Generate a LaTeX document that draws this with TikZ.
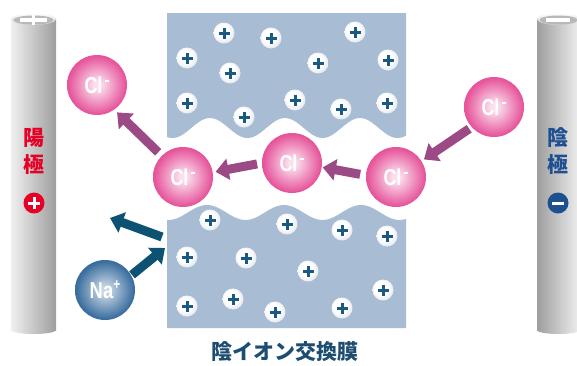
\documentclass[tikz,border=0pt]{standalone}
\usepackage{fontspec}
\setmainfont{Liberation Sans}
\newfontfamily\jpfont{Noto Sans CJK JP}
\usetikzlibrary{arrows.meta}

\definecolor{membrane}{HTML}{A8BCD4}
\definecolor{ballrim}{HTML}{C6CFDC}
\definecolor{ballrimdk}{HTML}{A7B2C4}
\definecolor{plusc}{HTML}{1B5A80}
\definecolor{clin}{HTML}{FBE0EE}
\definecolor{clout}{HTML}{E6559B}
\definecolor{nain}{HTML}{C8D6E6}
\definecolor{naout}{HTML}{3A6E9E}
\definecolor{clarrowc}{HTML}{9C4A86}
\definecolor{naarrowc}{HTML}{0E5273}
\definecolor{anodered}{HTML}{E60026}
\definecolor{cathodeblue}{HTML}{1D4F91}
\definecolor{labelblue}{HTML}{1D4E72}
\definecolor{rodlight}{HTML}{F0F0F0}
\definecolor{roddark}{HTML}{9E9E9E}
\definecolor{rodtop}{HTML}{CFCFCF}

% shaded spheres
\pgfdeclareradialshading{pballshade}{\pgfpoint{-6bp}{6bp}}{color(0bp)=(white); color(16bp)=(white); color(42bp)=(ballrim); color(60bp)=(ballrimdk)}
\pgfdeclareradialshading{clshade}{\pgfpoint{0bp}{0bp}}{color(0bp)=(clin); color(3bp)=(clin); color(24bp)=(clout); color(50bp)=(clout)}
\pgfdeclareradialshading{nashade}{\pgfpoint{0bp}{0bp}}{color(0bp)=(nain); color(3bp)=(nain); color(24bp)=(naout); color(50bp)=(naout)}

\tikzset{
  plusbar/.style={draw=plusc, line width=3pt},
  pball/.style={circle, minimum size=21pt, inner sep=0pt, outer sep=0pt,
    shade, shading=pballshade,
    path picture={
      \draw[plusbar] ([xshift=-5.5pt]path picture bounding box.center) -- ([xshift=5.5pt]path picture bounding box.center);
      \draw[plusbar] ([yshift=-5.5pt]path picture bounding box.center) -- ([yshift=5.5pt]path picture bounding box.center);
    }},
  clball/.style={circle, minimum size=60pt, inner sep=0pt, outer sep=0pt,
    shade, shading=clshade, text=white,
    font=\fontsize{23}{23}\selectfont\bfseries},
  naball/.style={circle, minimum size=60pt, inner sep=0pt, outer sep=0pt,
    shade, shading=nashade, text=white,
    font=\fontsize{23}{23}\selectfont\bfseries},
  clarrow/.style={draw=clarrowc, line width=9pt, -{Triangle[length=13pt,width=21pt]}},
  naarrow/.style={draw=naarrowc, line width=9pt, -{Triangle[length=13pt,width=21pt]}},
  jplabel/.style={inner sep=0pt, font=\jpfont\bfseries\fontsize{21}{21}\selectfont},
  signbar/.style={draw=white, line width=3pt},
}

% ion symbols with a small raised charge
\newcommand{\ionCl}{\scalebox{0.78}[1]{Cl}\hspace{2.5pt}\raisebox{11pt}{\rule{4.5pt}{1.8pt}}}
\newcommand{\ionNa}{\scalebox{0.8}[1]{Na\raisebox{0.4em}{\fontsize{15}{15}\selectfont +}}}

\begin{document}
\begin{tikzpicture}[x=1pt,y=-1pt]
\useasboundingbox (0,0) rectangle (577,365);

% anode rod
\shade[left color=rodlight, right color=roddark] (11,19) rectangle (56,330);
\shade[left color=rodlight, right color=roddark] (33.5,330) ellipse [x radius=22.5, y radius=4];
\shade[top color=white, bottom color=rodtop] (33.5,19) ellipse [x radius=22.5, y radius=6];
\fill[rodtop!85!black!90] (33.5,20) ellipse [x radius=20, y radius=4.5];
\draw[white, line width=3.5pt] (20,20) -- (47,20);
\draw[white, line width=3.5pt] (33.5,15) -- (33.5,25);

% cathode rod
\begin{scope}
\clip (0,0) rectangle (577,365);
\shade[left color=roddark, right color=rodlight] (537,19) rectangle (580,330);
\shade[left color=roddark, right color=rodlight] (558.5,330) ellipse [x radius=21.5, y radius=4];
\shade[top color=white, bottom color=rodtop] (558.5,19) ellipse [x radius=21.5, y radius=6];
\fill[rodtop!85!black!90] (558.5,20) ellipse [x radius=19, y radius=4.5];
\fill[white] (546,18) rectangle (570,22);
\end{scope}

% electrode labels
\node[jplabel, text=anodered] (anode1) at (33.5,138) {陽};
\node[jplabel, text=anodered] (anode2) at (33.5,165) {極};
\node[circle, fill=anodered, minimum size=21pt, inner sep=0pt] (anodesign) at (34,203) {};
\draw[signbar] ([xshift=-6pt]anodesign.center) -- ([xshift=6pt]anodesign.center);
\draw[signbar] ([yshift=-6pt]anodesign.center) -- ([yshift=6pt]anodesign.center);

\node[jplabel, text=cathodeblue] (cathode1) at (558,138) {陰};
\node[jplabel, text=cathodeblue] (cathode2) at (558,165) {極};
\node[circle, fill=cathodeblue, minimum size=21pt, inner sep=0pt] (cathodesign) at (558,203) {};
\draw[signbar] ([xshift=-6pt]cathodesign.center) -- ([xshift=6pt]cathodesign.center);

% anion exchange membrane, split by a wavy channel
\fill[membrane] (167,13) -- (406,13) --
  plot[domain=406:167, samples=150] (\x,{128-10*cos((\x-210)/75*360)}) -- cycle;
\fill[membrane] (167,328) -- (406,328) --
  plot[domain=406:167, samples=150] (\x,{212.5-7.5*cos((\x-207)/77*360)}) -- cycle;

% fixed positive charges, upper part
\foreach \p [count=\i] in {(224,33),(271,38),(355,32),(187,58),(318,63),(388,60),
    (230,73),(187,103),(295,100),(341,109),(387,103),(244,117)}
  \node[pball] (pu\i) at \p {};
% fixed positive charges, lower part
\foreach \p [count=\i] in {(210,220),(287,224),(342,230),(387,236),(187,257),(246,258),
    (308,271),(383,290),(187,306),(233,299),(275,312),(342,308)}
  \node[pball] (pl\i) at \p {};

\node[jplabel, text=labelblue] (memlabel) at (285,352) {陰イオン交換膜};

% ions
\node[clball] (clUL) at (97,85) {\ionCl};
\node[clball] (clL) at (183,177) {\ionCl};
\node[clball] (clM) at (292,163) {\ionCl};
\node[clball] (clR) at (396,177) {\ionCl};
\node[clball] (clUR) at (494,107) {\ionCl};
\node[naball] (na) at (105,290) {\ionNa};

% chloride path through the membrane
\draw[clarrow, shorten <=3pt, shorten >=3pt] (clUR.222) -- (clR.32);
\draw[clarrow, shorten <=6pt, shorten >=1pt] (clR.177) -- (clM.-8);
\draw[clarrow, shorten <=5pt, shorten >=3pt] (clM.180) -- (clL.9);
\draw[clarrow, shorten <=5pt, shorten >=4pt] (clL.135) -- (clUL.-55);

% sodium is turned back by the membrane
\coordinate (naIn) at (165,248);
\coordinate (bounceStart) at (162,237);
\coordinate (bounceEnd) at (110,218);
\draw[naarrow, shorten <=1pt] (na.29) -- (naIn);
\draw[naarrow] (bounceStart) -- (bounceEnd);
\end{tikzpicture}
\end{document}
